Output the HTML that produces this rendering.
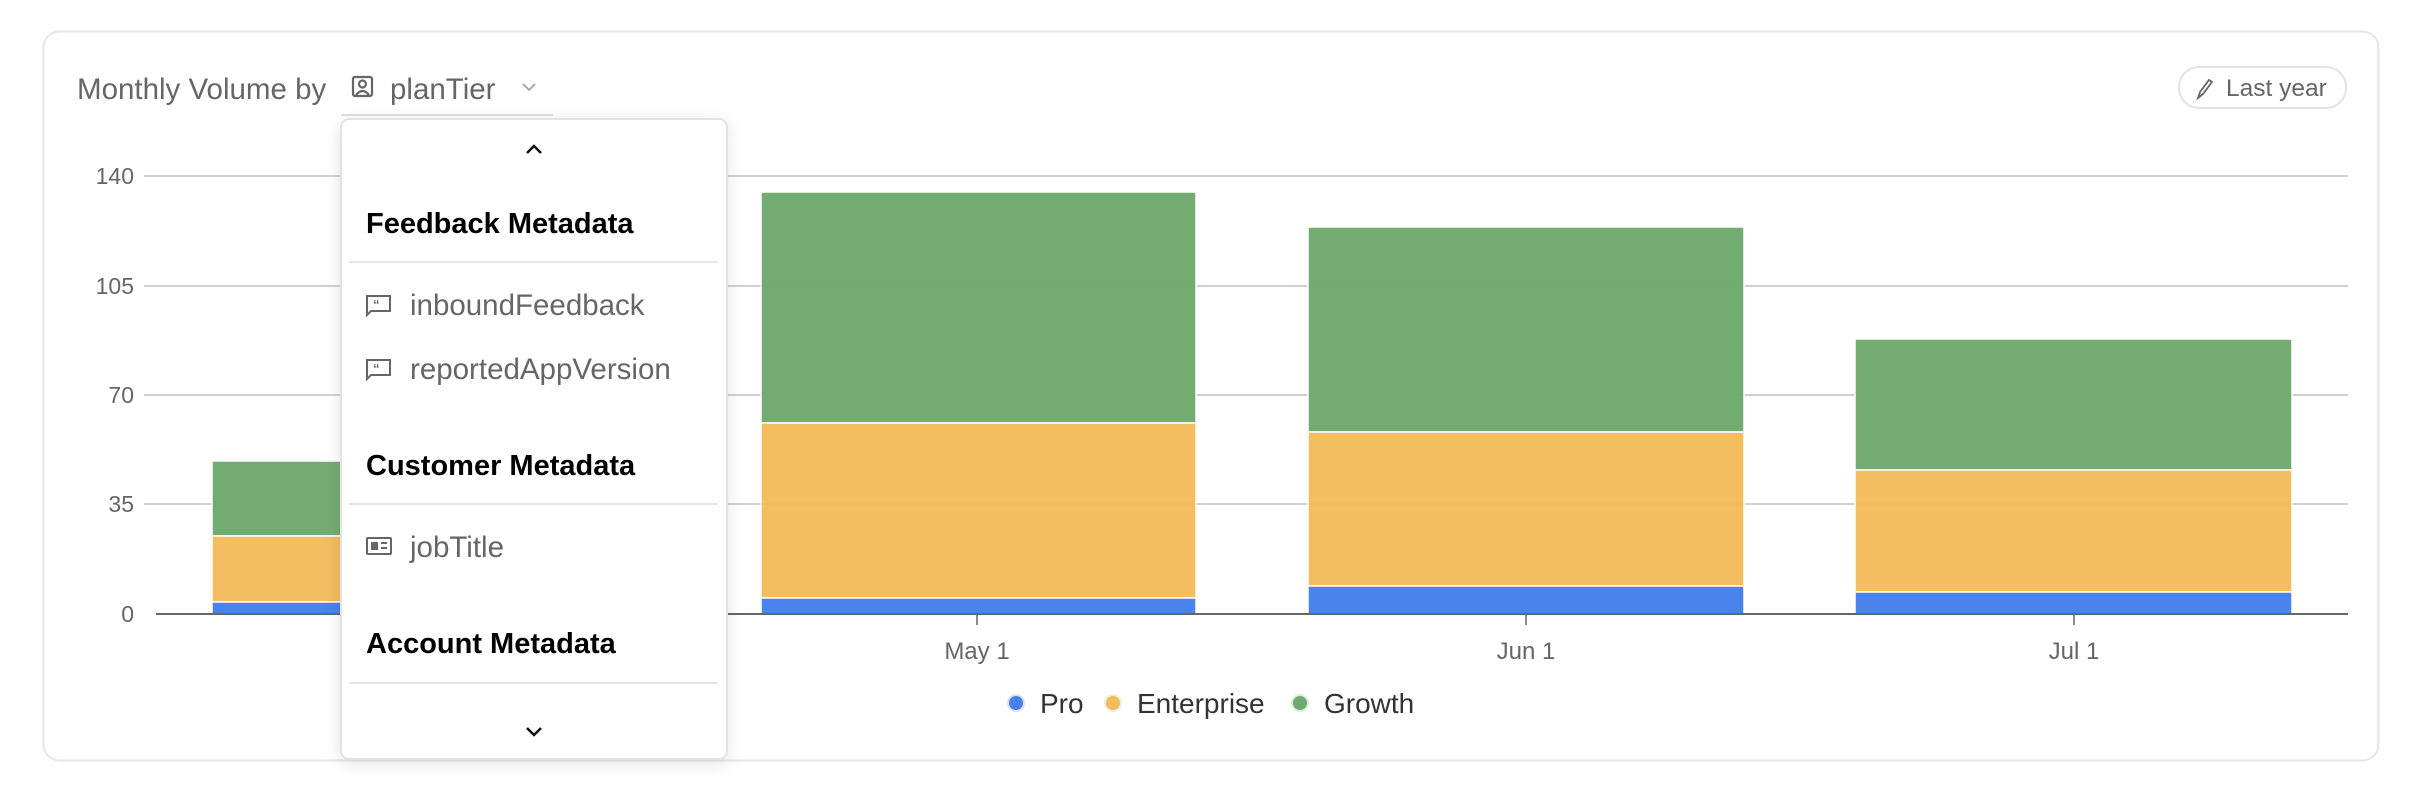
<!DOCTYPE html>
<html><head><meta charset="utf-8"><style>
html,body{margin:0;padding:0;background:#fff;width:2426px;height:790px;overflow:hidden}
svg{display:block}
text{font-family:"Liberation Sans",sans-serif}
</style></head><body>
<svg width="2426" height="790" viewBox="0 0 2426 790" xmlns="http://www.w3.org/2000/svg">
<defs>
<filter id="sh" x="-10%" y="-10%" width="120%" height="120%"><feDropShadow dx="0" dy="4" stdDeviation="8" flood-color="#000" flood-opacity="0.10"/></filter>
</defs>
<rect x="43.5" y="31.5" width="2335" height="729" rx="16" fill="#fff" stroke="#e6e6e6" stroke-width="2"/>
<text x="77" y="99" font-size="29.5" fill="#666">Monthly Volume by</text>
<g stroke="#666" stroke-width="2.2" fill="none">
<rect x="353" y="77" width="19" height="19" rx="2"/>
<circle cx="362.5" cy="84" r="3.5"/>
<path d="M356 95 q6.5-8 13 0"/>
</g>
<text x="390" y="99" font-size="29.5" fill="#666">planTier</text>
<path d="M523 84 l6 6 l6-6" stroke="#aaa" stroke-width="2" fill="none"/>
<line x1="341" y1="115" x2="553" y2="115" stroke="#e0e0e0" stroke-width="2"/>
<rect x="2179" y="67" width="167" height="41" rx="20" fill="#fff" stroke="#e3e3e3" stroke-width="2"/>
<path d="M2198 98 l2-6 l9-12 l3 2 l-9 12 z" stroke="#666" stroke-width="1.8" fill="none"/>
<text x="2226" y="96" font-size="24.5" fill="#666">Last year</text>
<g stroke="#d0d0d0" stroke-width="2">
<line x1="144" y1="176" x2="2348" y2="176"/>
<line x1="144" y1="286" x2="2348" y2="286"/>
<line x1="144" y1="395" x2="2348" y2="395"/>
<line x1="144" y1="504" x2="2348" y2="504"/>
</g>
<g font-size="23" fill="#666" text-anchor="end">
<text x="134" y="184">140</text><text x="134" y="294">105</text><text x="134" y="403">70</text><text x="134" y="512">35</text><text x="134" y="622">0</text>
</g>
<g stroke="#fff" stroke-width="1.5" opacity="0.97">
<rect x="212" y="461" width="435" height="75" fill="#6faa6f"/>
<rect x="212" y="536" width="435" height="66" fill="#f3bb5b"/>
<rect x="212" y="602" width="435" height="12" fill="#4580ec"/>
<rect x="761" y="192" width="435" height="231" fill="#6faa6f"/>
<rect x="761" y="423" width="435" height="175" fill="#f3bb5b"/>
<rect x="761" y="598" width="435" height="16" fill="#4580ec"/>
<rect x="1308" y="227" width="436" height="205" fill="#6faa6f"/>
<rect x="1308" y="432" width="436" height="154" fill="#f3bb5b"/>
<rect x="1308" y="586" width="436" height="28" fill="#4580ec"/>
<rect x="1855" y="339" width="437" height="131" fill="#6faa6f"/>
<rect x="1855" y="470" width="437" height="122" fill="#f3bb5b"/>
<rect x="1855" y="592" width="437" height="22" fill="#4580ec"/>
</g>
<line x1="156" y1="614" x2="2348" y2="614" stroke="#666" stroke-width="2"/>
<g stroke="#666" stroke-width="1.5"><line x1="977" y1="614" x2="977" y2="625"/><line x1="1526" y1="614" x2="1526" y2="625"/><line x1="2074" y1="614" x2="2074" y2="625"/></g>
<g font-size="24" fill="#666" text-anchor="middle">
<text x="977" y="659">May 1</text><text x="1526" y="659">Jun 1</text><text x="2074" y="659">Jul 1</text>
</g>
<g font-size="28" fill="#333">
<circle cx="1016" cy="703" r="8" fill="#4580ec" stroke="#dde" stroke-width="2"/><text x="1040" y="713">Pro</text>
<circle cx="1113" cy="703" r="8" fill="#f3bb5b" stroke="#eed" stroke-width="2"/><text x="1137" y="713">Enterprise</text>
<circle cx="1300" cy="703" r="8" fill="#6faa6f" stroke="#ded" stroke-width="2"/><text x="1324" y="713">Growth</text>
</g>
<rect x="341" y="119" width="386" height="640" rx="8" fill="#fff" stroke="#e3e3e3" stroke-width="2" filter="url(#sh)"/>
<path d="M527 153 l7-7 l7 7" stroke="#111" stroke-width="2.5" fill="none"/>
<path d="M527 728 l7 7 l7-7" stroke="#111" stroke-width="2.5" fill="none"/>
<g font-size="29" font-weight="bold" fill="#000">
<text x="366" y="233">Feedback Metadata</text>
<text x="366" y="475">Customer Metadata</text>
<text x="366" y="653">Account Metadata</text>
</g>
<g stroke="#e6e6e6" stroke-width="2">
<line x1="349" y1="262" x2="718" y2="262"/><line x1="349" y1="504" x2="718" y2="504"/><line x1="349" y1="683" x2="718" y2="683"/>
</g>
<g stroke="#666" stroke-width="2" fill="none">
<path d="M367 296 h23 v15 h-19 l-4 4 z"/>
<path d="M367 360 h23 v15 h-19 l-4 4 z"/>
<rect x="367" y="538" width="24" height="16" rx="1"/>
<line x1="381" y1="543" x2="387" y2="543"/><line x1="381" y1="548" x2="387" y2="548"/>
</g>
<g font-size="13" fill="#666" font-weight="bold"><text x="373" y="309">“</text><text x="373" y="373">“</text></g>
<rect x="371" y="542" width="7" height="8" fill="#666"/>
<g font-size="29.5" fill="#666">
<text x="410" y="315">inboundFeedback</text>
<text x="410" y="379">reportedAppVersion</text>
<text x="410" y="557">jobTitle</text>
</g>
</svg>
</body></html>
